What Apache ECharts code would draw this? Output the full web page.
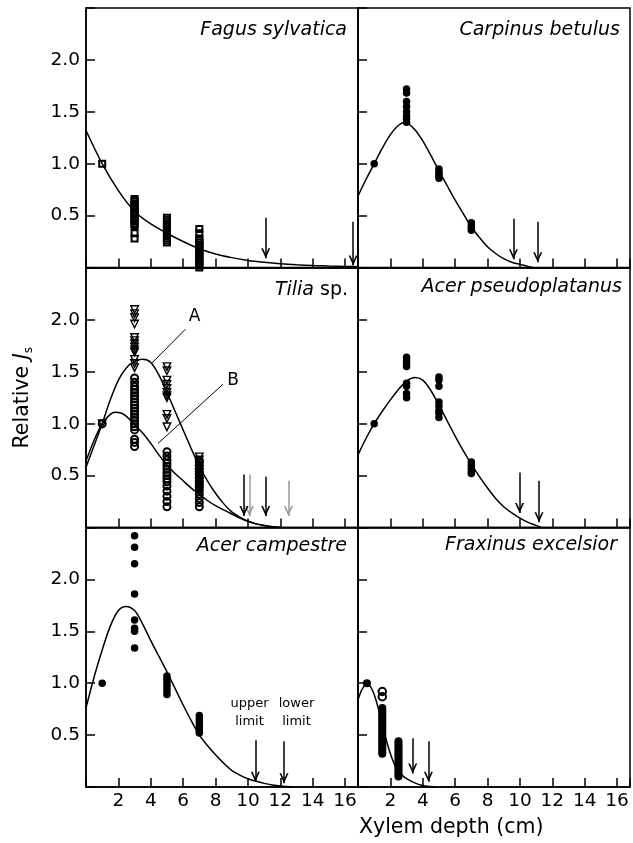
<!DOCTYPE html>
<html><head><meta charset="utf-8">
<script src="https://cdn.jsdelivr.net/npm/echarts@6/dist/echarts.min.js"></script>
<style>html,body{margin:0;padding:0;background:#fff}#c{width:633px;height:843px}</style>
</head><body><div id="c"></div>
<script>
// ---------------- data ----------------
const speciesNames = ['Fagus sylvatica', 'Carpinus betulus', 'Tilia sp.', 'Acer pseudoplatanus', 'Acer campestre', 'Fraxinus excelsior'];
const xTickLabels = [2, 4, 6, 8, 10, 12, 14, 16];
const yTickLabels = [0.5, 1.0, 1.5, 2.0];
const xAxisTitle = 'Xylem depth (cm)';

// Fagus sylvatica
const fagusX = [1, 3, 5, 7];
const fagusY = [
  [1.0],
  [0.66, 0.64, 0.62, 0.60, 0.58, 0.56, 0.54, 0.52, 0.50, 0.48, 0.46, 0.44, 0.42, 0.40, 0.33, 0.28],
  [0.48, 0.46, 0.44, 0.42, 0.40, 0.38, 0.36, 0.34, 0.32, 0.30, 0.28, 0.26, 0.24],
  [0.37, 0.33, 0.28, 0.26, 0.24, 0.22, 0.20, 0.18, 0.16, 0.14, 0.12, 0.10, 0.08, 0.06, 0.04, 0.02, 0.0]
];
const fagusCurveX = [0, 1, 2, 3, 4, 5, 6, 7, 8, 9, 10, 11, 12, 13, 14, 15, 16, 16.8];
const fagusCurveY = [1.32, 1.0, 0.74, 0.54, 0.42, 0.33, 0.25, 0.18, 0.13, 0.095, 0.068, 0.05, 0.036, 0.026, 0.019, 0.014, 0.01, 0.008];
const fagusArrows = [[11.1, 0.48, 0.09], [16.5, 0.44, 0.02]];   // x, top, tip

// Carpinus betulus
const carpX = [1, 3, 5, 7];
const carpY = [
  [1.0],
  [1.72, 1.68, 1.60, 1.55, 1.50, 1.46, 1.43, 1.40],
  [0.95, 0.92, 0.90, 0.88, 0.86],
  [0.43, 0.40, 0.38, 0.36]
];
const carpCurveX = [0, 0.5, 1, 1.5, 2, 2.5, 2.9, 3.5, 4, 4.5, 5, 5.5, 6, 6.5, 7, 7.5, 8, 8.5, 9, 9.5, 10, 10.5, 10.8];
const carpCurveY = [0.69, 0.85, 1.0, 1.15, 1.28, 1.37, 1.40, 1.33, 1.22, 1.08, 0.93, 0.79, 0.65, 0.52, 0.39, 0.29, 0.20, 0.135, 0.085, 0.05, 0.03, 0.01, 0.0];
const carpArrows = [[9.6, 0.47, 0.08], [11.1, 0.44, 0.05]];

// Tilia sp.
const tiliaX = [1, 3, 5, 7];
const tiliaAY = [
  [1.0],
  [2.10, 2.06, 2.02, 1.96, 1.83, 1.80, 1.77, 1.74, 1.71, 1.69, 1.62, 1.58, 1.54],
  [1.55, 1.51, 1.42, 1.38, 1.34, 1.30, 1.27, 1.25, 1.09, 1.05, 0.97],
  [0.68, 0.65, 0.62, 0.59, 0.56, 0.53, 0.50, 0.47, 0.44, 0.41, 0.38, 0.35]
];
const tiliaBY = [
  [1.0],
  [1.44, 1.40, 1.36, 1.33, 1.30, 1.27, 1.24, 1.21, 1.18, 1.15, 1.12, 1.09, 1.06, 1.03, 1.00, 0.97, 0.94, 0.85, 0.82, 0.78],
  [0.73, 0.69, 0.65, 0.62, 0.59, 0.56, 0.53, 0.50, 0.47, 0.44, 0.40, 0.35, 0.30, 0.25, 0.20],
  [0.64, 0.60, 0.56, 0.52, 0.48, 0.44, 0.40, 0.36, 0.32, 0.28, 0.24, 0.20]
];
const tiliaACurveX = [0, 0.5, 1, 1.5, 2, 2.5, 3, 3.5, 4, 4.5, 5, 5.5, 6, 6.5, 7, 7.5, 8, 8.5, 9, 9.5, 10, 10.5, 11, 11.5, 12];
const tiliaACurveY = [0.58, 0.79, 1.0, 1.23, 1.42, 1.54, 1.60, 1.62, 1.59, 1.47, 1.30, 1.12, 0.94, 0.76, 0.59, 0.45, 0.33, 0.23, 0.15, 0.10, 0.06, 0.035, 0.02, 0.008, 0.0];
const tiliaBCurveX = [0, 0.5, 1, 1.5, 1.8, 2.2, 2.5, 3, 3.5, 4, 4.5, 5, 5.5, 6, 6.5, 7, 7.5, 8, 8.5, 9, 9.5, 10, 10.5, 11, 11.5, 12];
const tiliaBCurveY = [0.64, 0.84, 1.0, 1.09, 1.11, 1.10, 1.07, 0.99, 0.91, 0.81, 0.70, 0.60, 0.52, 0.45, 0.38, 0.32, 0.26, 0.21, 0.17, 0.13, 0.09, 0.06, 0.035, 0.02, 0.008, 0.0];
const tiliaArrowsBlack = [[9.76, 0.51, 0.11], [11.1, 0.49, 0.11]];
const tiliaArrowsGray = [[10.09, 0.51, 0.11], [12.5, 0.45, 0.11]];
const tiliaLabelText = ['A', 'B'];
const tiliaLabelX = [6.71, 9.08];
const tiliaLabelY = [2.03, 1.42];
const tiliaLeaders = [[6.14, 1.91, 4.04, 1.58], [8.46, 1.38, 4.45, 0.81]];

// Acer pseudoplatanus
const apsX = [1, 3, 5, 7];
const apsY = [
  [1.0],
  [1.64, 1.61, 1.58, 1.55, 1.39, 1.36, 1.29, 1.25],
  [1.45, 1.42, 1.36, 1.21, 1.17, 1.13, 1.10, 1.06],
  [0.63, 0.60, 0.57, 0.54, 0.52]
];
const apsCurveX = [0, 0.5, 1, 1.5, 2, 2.5, 3, 3.5, 4, 4.5, 5, 5.5, 6, 6.5, 7, 7.5, 8, 8.5, 9, 9.5, 10, 10.5, 11, 11.3];
const apsCurveY = [0.70, 0.86, 1.0, 1.12, 1.23, 1.33, 1.41, 1.445, 1.42, 1.32, 1.18, 1.03, 0.88, 0.74, 0.61, 0.49, 0.38, 0.28, 0.20, 0.14, 0.09, 0.05, 0.02, 0.0];
const apsArrows = [[9.98, 0.53, 0.14], [11.18, 0.45, 0.05]];

// Acer campestre
const acaX = [1, 3, 5, 7];
const acaY = [
  [1.0],
  [2.42, 2.31, 2.15, 1.86, 1.61, 1.53, 1.50, 1.34],
  [1.07, 1.04, 1.01, 0.98, 0.95, 0.92, 0.89],
  [0.69, 0.66, 0.63, 0.60, 0.57, 0.54, 0.52]
];
const acaCurveX = [0, 0.5, 1, 1.5, 2, 2.45, 3, 3.5, 4, 4.5, 5, 5.5, 6, 6.5, 7, 7.5, 8, 8.5, 9, 9.5, 10, 10.5, 11, 11.5, 12, 12.8];
const acaCurveY = [0.76, 1.06, 1.32, 1.55, 1.70, 1.74, 1.70, 1.57, 1.41, 1.26, 1.11, 0.95, 0.79, 0.64, 0.50, 0.40, 0.31, 0.23, 0.16, 0.115, 0.08, 0.055, 0.035, 0.02, 0.01, 0.0];
const acaArrows = [[10.46, 0.45, 0.05], [12.23, 0.44, 0.035]];
const limitLabelText = ['upper\nlimit', 'lower\nlimit'];
const limitLabelX = [10.1, 13.0];
const limitLabelY = [0.72, 0.72];

// Fraxinus excelsior
const fraxX = [0.55, 1.5, 2.5];
const fraxOpenY = [[], [0.92, 0.87], []];
const fraxY = [
  [1.0],
  [0.76, 0.74, 0.72, 0.70, 0.68, 0.66, 0.64, 0.62, 0.60, 0.58, 0.56, 0.54, 0.52, 0.50, 0.48, 0.46, 0.44, 0.42, 0.40, 0.38, 0.36, 0.34, 0.32],
  [0.44, 0.42, 0.40, 0.38, 0.36, 0.34, 0.32, 0.30, 0.28, 0.26, 0.24, 0.22, 0.20, 0.18, 0.16, 0.14, 0.12, 0.10]
];
const fraxCurveX = [0, 0.25, 0.55, 0.8, 1.0, 1.25, 1.5, 1.75, 2.0, 2.25, 2.5, 2.75, 3.0, 3.5, 4.0, 4.5, 4.8];
const fraxCurveY = [0.84, 0.94, 1.0, 0.96, 0.89, 0.76, 0.60, 0.45, 0.32, 0.22, 0.15, 0.11, 0.08, 0.04, 0.015, 0.004, 0.0];
const fraxArrows = [[3.38, 0.47, 0.13], [4.35, 0.44, 0.05]];

// ---------------- helpers ----------------
const FONT = 'DejaVu Sans';
function pts(xs, ys) { const o = []; xs.forEach((x, i) => ys[i].forEach(y => o.push([x, y]))); return o; }
function curve(xs, ys) { return xs.map((x, i) => [x, ys[i]]); }
const vHead = 'path://M0,0 L1.9,0 L5,6.2 L8.1,0 L10,0 L5,10 Z';

function arrowShaft(arr, color) {
  return {
    silent: true, animation: false, symbol: ['none', 'none'],
    label: { show: false }, emphasis: { disabled: true },
    lineStyle: { color: color, width: 1.5, type: 'solid', opacity: 1 },
    data: arr.map(a => [{ coord: [a[0], a[1]] }, { coord: [a[0], a[2]] }])
  };
}
function arrowSeries(i, arr, color) {
  return {
    type: 'scatter', xAxisIndex: i, yAxisIndex: i, silent: true, z: 4,
    data: arr.map(a => [a[0], a[2]]),
    symbol: vHead, symbolSize: [9, 10], symbolOffset: [0, -5],
    itemStyle: { color: color, opacity: 1 },
    markLine: arrowShaft(arr, color)
  };
}
function leaderMark(arr) {
  return {
    silent: true, animation: false, symbol: ['none', 'none'],
    label: { show: false }, emphasis: { disabled: true },
    lineStyle: { color: '#000', width: 1, type: 'solid', opacity: 1 },
    data: arr.map(a => [{ coord: [a[0], a[1]] }, { coord: [a[2], a[3]] }])
  };
}
function curveSeries(i, xs, ys, extra) {
  return Object.assign({
    type: 'line', xAxisIndex: i, yAxisIndex: i, data: curve(xs, ys), smooth: 0.3,
    symbol: 'none', lineStyle: { color: '#000', width: 1.5 }, silent: true, z: 3
  }, extra || {});
}
function scatterSeries(i, data, symbol, size, itemStyle, extra) {
  return Object.assign({
    type: 'scatter', xAxisIndex: i, yAxisIndex: i, data: data, symbol: symbol, symbolSize: size,
    itemStyle: Object.assign({ opacity: 1 }, itemStyle), silent: true, z: 2
  }, extra || {});
}

const gridTops = [8, 8, 268, 268, 527.5, 527.5];
const gridLefts = [86, 358, 86, 358, 86, 358];
const grids = gridTops.map((t, i) => ({
  left: gridLefts[i], top: t, width: 272, height: 259.5,
  show: true, borderColor: '#000', borderWidth: 1.5, backgroundColor: 'transparent'
}));

const xAxes = grids.map((g, i) => ({
  gridIndex: i, type: 'value', min: 0, max: 16.8, interval: 2,
  axisLine: { show: true, lineStyle: { color: '#000', width: 1.5 } },
  axisTick: { show: true, inside: true, length: 9, lineStyle: { color: '#000', width: 1.5 } },
  splitLine: { show: false },
  axisLabel: {
    show: i >= 4, color: '#000', fontFamily: FONT, fontSize: 18.5, margin: 5,
    formatter: v => (xTickLabels.indexOf(Math.round(v * 10) / 10) >= 0 ? String(v) : '')
  }
}));
const yAxes = grids.map((g, i) => ({
  gridIndex: i, type: 'value', min: 0, max: 2.5, interval: 0.5,
  axisLine: { show: true, lineStyle: { color: '#000', width: 1.5 } },
  axisTick: { show: true, inside: true, length: 9, lineStyle: { color: '#000', width: 1.5 } },
  splitLine: { show: false },
  axisLabel: {
    show: i % 2 === 0, color: '#000', fontFamily: FONT, fontSize: 18.5, margin: 6,
    formatter: v => (yTickLabels.indexOf(Math.round(v * 10) / 10) >= 0 ? v.toFixed(1) : '')
  }
}));
yAxes[2].name = '{r|Relative }{j|J}{s|s}';
yAxes[2].nameLocation = 'middle';
yAxes[2].nameRotate = 90;
yAxes[2].nameGap = 51;
yAxes[2].nameTextStyle = {
  rich: {
    r: { fontFamily: FONT, fontSize: 20.5, color: '#000', lineHeight: 24 },
    j: { fontFamily: FONT, fontSize: 20.5, fontStyle: 'italic', color: '#000', lineHeight: 24 },
    s: { fontFamily: FONT, fontSize: 12, color: '#000', lineHeight: 12, verticalAlign: 'bottom' }
  }
};

const titleRights = [286, 13, 285, 11, 286, 16];
const titleTops = [21, 21, 281, 278, 537, 536];
const titles = speciesNames.map((n, i) => {
  const t = { right: titleRights[i], top: titleTops[i], padding: 0,
    textStyle: { fontFamily: FONT, fontSize: 19, fontStyle: 'italic', fontWeight: 'normal', color: '#000' } };
  if (n === 'Tilia sp.') {
    t.text = '{i|Tilia}{n| sp.}';
    t.textStyle.rich = {
      i: { fontFamily: FONT, fontSize: 19, fontStyle: 'italic', color: '#000' },
      n: { fontFamily: FONT, fontSize: 19, fontStyle: 'normal', color: '#000' }
    };
  } else t.text = n;
  return t;
});

const noFill = 'rgba(0,0,0,0)';
const openSq = { color: noFill, borderColor: '#000', borderWidth: 2 };
const openTri = { color: noFill, borderColor: '#000', borderWidth: 1.4 };
const openCirc = { color: noFill, borderColor: '#000', borderWidth: 2 };
const filledDot = { color: '#000' };

const series = [
  // Fagus
  scatterSeries(0, pts(fagusX, fagusY), 'rect', 6, openSq),
  curveSeries(0, fagusCurveX, fagusCurveY),
  arrowSeries(0, fagusArrows, '#000'),
  // Carpinus
  scatterSeries(1, pts(carpX, carpY), 'circle', 7.5, filledDot),
  curveSeries(1, carpCurveX, carpCurveY),
  arrowSeries(1, carpArrows, '#000'),
  // Tilia
  scatterSeries(2, pts(tiliaX, tiliaBY), 'circle', 7, openCirc),
  scatterSeries(2, pts(tiliaX, tiliaAY), 'triangle', 7.5, openTri, { symbolRotate: 180 }),
  curveSeries(2, tiliaACurveX, tiliaACurveY, { markLine: leaderMark(tiliaLeaders) }),
  curveSeries(2, tiliaBCurveX, tiliaBCurveY),
  arrowSeries(2, tiliaArrowsGray, '#9a9a9a'),
  arrowSeries(2, tiliaArrowsBlack, '#000'),
  {
    type: 'scatter', xAxisIndex: 2, yAxisIndex: 2, symbolSize: 0, silent: true,
    itemStyle: { opacity: 1 },
    data: tiliaLabelText.map((t, i) => ({ name: t, value: [tiliaLabelX[i], tiliaLabelY[i]] })),
    label: { show: true, position: 'inside', formatter: '{b}', color: '#000', fontFamily: FONT, fontSize: 17 }
  },
  // Acer pseudoplatanus
  scatterSeries(3, pts(apsX, apsY), 'circle', 7.5, filledDot),
  curveSeries(3, apsCurveX, apsCurveY),
  arrowSeries(3, apsArrows, '#000'),
  // Acer campestre
  scatterSeries(4, pts(acaX, acaY), 'circle', 7.5, filledDot),
  curveSeries(4, acaCurveX, acaCurveY),
  arrowSeries(4, acaArrows, '#000'),
  {
    type: 'scatter', xAxisIndex: 4, yAxisIndex: 4, symbolSize: 0, silent: true,
    itemStyle: { opacity: 1 },
    data: limitLabelText.map((t, i) => ({ name: t, value: [limitLabelX[i], limitLabelY[i]] })),
    label: { show: true, position: 'inside', formatter: '{b}', color: '#000', fontFamily: FONT, fontSize: 13, lineHeight: 18, align: 'center' }
  },
  // Fraxinus
  scatterSeries(5, pts(fraxX, fraxY), 'circle', 8, filledDot),
  scatterSeries(5, pts(fraxX, fraxOpenY), 'circle', 7.5, { color: noFill, borderColor: '#000', borderWidth: 2 }),
  curveSeries(5, fraxCurveX, fraxCurveY),
  arrowSeries(5, fraxArrows, '#000')
];

const chart = echarts.init(document.getElementById('c'), null, { renderer: 'canvas' });
chart.setOption({
  animation: false,
  backgroundColor: '#fff',
  title: titles,
  grid: grids,
  xAxis: xAxes,
  yAxis: yAxes,
  series: series,
  graphic: [{
    type: 'text', left: 359, top: 817,
    style: { text: xAxisTitle, fontFamily: FONT, fontSize: 20.5, fill: '#000', align: 'center' }
  }]
});
</script></body></html>
